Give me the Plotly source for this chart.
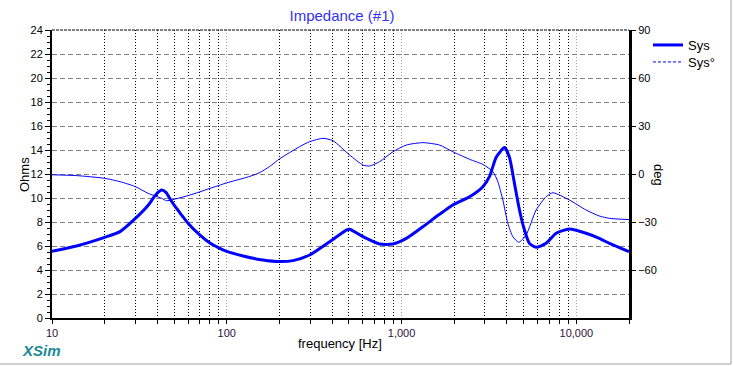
import plotly.graph_objects as go

# ---- data ----
imp_freq = [10, 13.8, 20, 24.5, 30, 35.5, 38, 40, 42.4, 45, 47.5, 50, 55, 60, 70, 80, 90, 100,
            124, 161, 200, 239, 298, 388, 483, 504, 601, 748, 892, 1064, 1324, 1648,
            1965, 2448, 2917, 3186, 3477, 3880, 4140, 4425, 4725, 5047, 5388, 5884,
            6713, 7658, 9125, 11360, 13520, 15460, 20000]
imp_ohms = [5.55, 6.0, 6.72, 7.2, 8.3, 9.4, 10.0, 10.4, 10.67, 10.45, 9.9, 9.4, 8.6, 7.9, 6.92, 6.25, 5.85, 5.55,
            5.17, 4.83, 4.7, 4.78, 5.25, 6.36, 7.33, 7.39, 6.78, 6.17, 6.17, 6.64, 7.61, 8.64,
            9.42, 10.1, 10.94, 11.8, 13.4, 14.2, 13.4, 11.2, 9.0, 7.33, 6.22, 5.89,
            6.22, 7.06, 7.42, 7.06, 6.64, 6.22, 5.53]

ph_freq = [10, 13.8, 20, 24.5, 30, 35.5, 42.4, 45.2, 50, 60, 70, 80, 90, 100, 129, 148, 161, 180, 200,
           261, 298, 355, 405, 504, 601, 656, 748, 892, 1064, 1324, 1648, 1965, 2448,
           2917, 3327, 3554, 3796, 4054, 4330, 4680, 5160, 5884, 6713, 7330, 9125,
           11360, 13520, 15460, 20000]
ph_deg = [-0.5, -1, -2.7, -4.8, -7.9, -12.1, -15.2, -16.7, -15.8, -13.5, -11.2, -9.0, -7.2, -5.5, -2.2, 0.0, 2.0, 5.5, 9.4,
          17.1, 20.2, 22.3, 20.8, 11.9, 5.6, 5.0, 7.7, 13.9, 18.1, 19.6, 18.1, 13.9, 9.2,
          6.0, 1.5, -4.8, -16.25, -30.8, -39.2, -42.7, -38.1, -22.5, -14.2, -11.7, -16.25,
          -22.5, -26.25, -27.7, -28.5]

x_tickvals = [10, 100, 1000, 10000]
x_ticktext = ["10", "100", "1,000", "10,000"]
y2_tickvals = [-60, -30, 0, 30, 60, 90]

FONT = "Liberation Sans, Arial, sans-serif"
BLUE = "#0000ff"

fig = go.Figure()
fig.add_trace(go.Scatter(x=imp_freq, y=imp_ohms, name="Sys", mode="lines",
                         line=dict(color=BLUE, width=3, shape="spline", smoothing=0.6),
                         yaxis="y", legend="legend"))
fig.add_trace(go.Scatter(x=ph_freq, y=ph_deg, name="Sys°", mode="lines",
                         line=dict(color=BLUE, width=1, shape="spline", smoothing=0.6),
                         yaxis="y2", showlegend=False, legendgroup="ph"))
# legend entry for the phase trace (dashed sample as in the reference)
fig.add_trace(go.Scatter(x=[None], y=[None], name="Sys°", mode="lines",
                         line=dict(color=BLUE, width=1, dash="3px,2px"),
                         yaxis="y2", legendgroup="ph", legend="legend2"))

# plot area in px: x 52..629, y 30..318
L, R, T, B = 52, 629, 30, 318
W, H = R - L, B - T
def px(x):
    return (x - L) / W
def py(y):
    return (B - y) / H

leg_common = dict(xanchor="left", yanchor="middle",
                  font=dict(family=FONT, size=13, color="black"),
                  bgcolor="rgba(0,0,0,0)", borderwidth=0, itemwidth=30)

fig.update_layout(
    width=733, height=366,
    margin=dict(l=L, r=733 - R, t=T, b=366 - B, pad=0, autoexpand=False),
    paper_bgcolor="white", plot_bgcolor="white",
    font=dict(family=FONT, size=11, color="black"),
    title=dict(text="Impedance (#1)", x=342 / 733, xref="container", xanchor="center",
               y=1 - 16 / 366, yref="container", yanchor="middle",
               font=dict(family=FONT, size=15, color="#3333ee")),
    showlegend=True,
    legend=dict(x=px(648), y=py(45), **leg_common),
    legend2=dict(x=px(648), y=py(62), **leg_common),
    xaxis=dict(type="log", range=[1, 4.30103],
               tickmode="array", tickvals=x_tickvals, ticktext=x_ticktext,
               tickfont=dict(family=FONT, size=11, color="#301040"),
               ticks="outside", ticklen=4, tickcolor="black",
               showline=True, linecolor="black", linewidth=2,
               showgrid=True, gridcolor="#a0a0a0", gridwidth=1, griddash="1px,2px",
               minor=dict(dtick="D1", showgrid=True, gridcolor="black", gridwidth=1,
                          griddash="1px,2px", ticks="outside", ticklen=4, tickcolor="black"),
               zeroline=False),
    yaxis=dict(range=[0, 24], tick0=0, dtick=2,
               ticks="outside", ticklen=5, tickcolor="black",
               tickfont=dict(family=FONT, size=11, color="black"),
               showline=True, linecolor="black", linewidth=2,
               showgrid=True, gridcolor="#808080", gridwidth=1, griddash="5px,3px",
               minor=dict(dtick=0.5, ticks="outside", ticklen=3, tickcolor="black", showgrid=False),
               zeroline=False),
    yaxis2=dict(range=[-90, 90], overlaying="y", side="right",
                tickmode="array", tickvals=y2_tickvals,
                ticks="outside", ticklen=4, tickcolor="black",
                tickfont=dict(family=FONT, size=11, color="black"),
                showline=True, linecolor="black", linewidth=3,
                showgrid=False, zeroline=False),
    shapes=[
        dict(type="line", xref="paper", yref="paper", x0=0, x1=1, y0=1, y1=1,
             line=dict(color="black", width=1, dash="3px,1px")),
        dict(type="line", xref="paper", yref="paper", x0=px(731), x1=px(731), y0=py(0), y1=py(364),
             line=dict(color="#a0a0a0", width=1)),
        dict(type="line", xref="paper", yref="paper", x0=px(0), x1=px(731), y0=py(364), y1=py(364),
             line=dict(color="#a0a0a0", width=1)),
    ],
    annotations=[
        dict(text="Ohms", xref="paper", yref="paper", x=px(24), y=py(175), textangle=-90,
             showarrow=False, font=dict(family=FONT, size=13, color="black"),
             xanchor="center", yanchor="middle"),
        dict(text="deg", xref="paper", yref="paper", x=px(659), y=py(175), textangle=90,
             showarrow=False, font=dict(family=FONT, size=13, color="black"),
             xanchor="center", yanchor="middle"),
        dict(text="frequency [Hz]", xref="paper", yref="paper", x=px(340), y=py(343),
             showarrow=False, font=dict(family=FONT, size=13, color="black"),
             xanchor="center", yanchor="middle"),
        dict(text="<b><i>XSim</i></b>", xref="paper", yref="paper", x=px(41), y=py(350),
             showarrow=False, font=dict(family=FONT, size=15, color="#1b8a96"),
             xanchor="center", yanchor="middle"),
    ],
)

fig.write_html("out.html", config={"displayModeBar": False},
               post_script="document.body.style.margin='0px';")
